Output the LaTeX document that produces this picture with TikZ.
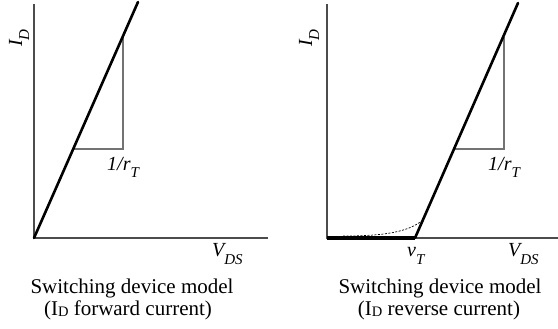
\documentclass[tikz,border=0pt]{standalone}
\usepackage{fontspec}
\setmainfont{Liberation Serif}
\newcommand\lsub[1]{\raisebox{-7pt}{\fontsize{15}{15}\selectfont #1}}
\newcommand\csub[1]{\raisebox{-1pt}{\fontsize{14.5}{14.5}\selectfont #1}}
\begin{document}
\begin{tikzpicture}[x=1pt,y=-1pt,
  axis/.style={draw=black!70,line width=1.3pt},
  curve/.style={draw=black,line width=2.6pt,line cap=round},
  tri/.style={draw=black!55,line width=1.3pt},
  lbl/.style={font=\fontsize{20}{22}\selectfont\itshape,inner sep=0pt},
  captxt/.style={font=\fontsize{21}{24}\selectfont,inner sep=0pt,anchor=base}]
\useasboundingbox (0,0) rectangle (558,329);
% ---------- left plot ----------
\coordinate (Lo) at (34,238);
\coordinate (Ltop) at (34,4);
\coordinate (Lxe) at (268,238);
\coordinate (Lend) at (138,2);
\coordinate (Lt1) at (123,37);
\coordinate (Lt2) at (123,149);
\coordinate (Lt3) at (73,149);
\draw[axis] (Ltop) -- (Lo) -- (Lxe);
\draw[tri] (Lt1) -- (Lt2) -- (Lt3);
\draw[curve] (Lo) -- (Lend);
\node[lbl,rotate=90] (LID) at (19,38) {I\lsub{D}};
\node[lbl,anchor=base west] (Lr) at (107,171) {1/r\lsub{T}};
\node[lbl,anchor=base west] (LV) at (212,257) {V\lsub{DS}};
\node[captxt] (Lc1) at (132,293) {Switching device model};
\node[captxt] (Lc2) at (128,316) {(I\csub{D} forward current)};
% ---------- right plot ----------
\coordinate (Ro) at (327,238);
\coordinate (Rtop) at (327,4);
\coordinate (Rxe) at (558,238);
\coordinate (Rv) at (415,238);
\coordinate (Rend) at (518,3);
\coordinate (Rd1) at (343,236);
\coordinate (Rd2) at (423,220);
\coordinate (Rt1) at (504,37);
\coordinate (Rt2) at (504,149);
\coordinate (Rt3) at (454,149);
\draw[axis] (Rtop) -- (Ro) -- (Rxe);
\draw[tri] (Rt1) -- (Rt2) -- (Rt3);
\draw[black,line width=0.7pt,dash pattern=on 2pt off 1.5pt] (Rd1) .. controls (385,236) and (408,232) .. (Rd2);
\draw[curve,line width=3.2pt,line cap=butt] (Ro) -- (Rv);
\draw[curve] (Rv) -- (Rend);
\node[lbl,rotate=90] (RID) at (309,38) {I\lsub{D}};
\node[lbl,anchor=base west] (Rr) at (488,171) {1/r\lsub{T}};
\node[lbl,anchor=base west] (RvT) at (407,257) {v\lsub{T}};
\node[lbl,anchor=base west] (RV) at (508,257) {V\lsub{DS}};
\node[captxt] (Rc1) at (440,293) {Switching device model};
\node[captxt] (Rc2) at (439,316) {(I\csub{D} reverse current)};
\end{tikzpicture}
\end{document}
